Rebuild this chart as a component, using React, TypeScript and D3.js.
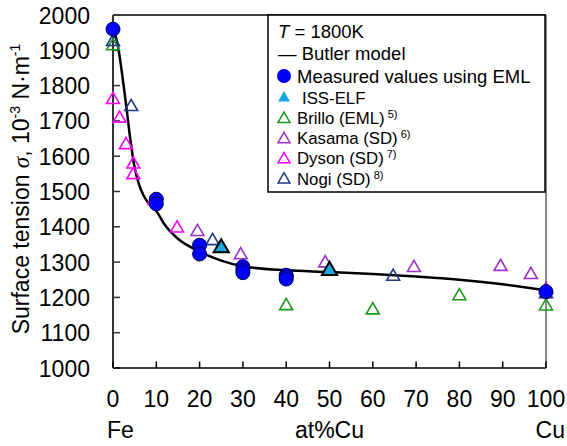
import React from "react";
import * as d3 from "d3";

// Butler model curve (at%Cu -> surface tension, 1e-3 N/m)
const butlerX = [0, 1, 2, 3, 4, 5, 6, 7, 8, 10, 12, 15, 20, 25, 30, 40, 50, 60, 70, 80, 90, 100];
const butlerY = [1960, 1922, 1842, 1748, 1648, 1568, 1520, 1490, 1470, 1445, 1405, 1366, 1330, 1304, 1288, 1277, 1272, 1266, 1259, 1250, 1237, 1220];

// measured values using EML
const emlX = [0, 10, 10, 20, 20, 30, 30, 30, 40, 40, 40, 100];
const emlY = [1960, 1478, 1465, 1348, 1323, 1287, 1277, 1270, 1263, 1257, 1252, 1216];

// ISS-ELF
const issX = [25, 50];
const issY = [1340, 1276];

// literature data
const brilloX = [0, 40, 60, 80, 100];
const brilloY = [1912, 1176, 1164, 1204, 1175];
const kasamaX = [19.5, 29.5, 49, 69.5, 89.5, 96.5, 100];
const kasamaY = [1386, 1320, 1297, 1284, 1287, 1264, 1222];
const dysonX = [0, 1.5, 3, 4.7, 4.7, 9.5, 14.8];
const dysonY = [1760, 1707, 1632, 1577, 1547, 1475, 1396];
const nogiX = [0, 4.2, 23, 64.7, 100];
const nogiY = [1924, 1740, 1360, 1259, 1210];

const xTicks = [0, 10, 20, 30, 40, 50, 60, 70, 80, 90, 100];
const yTicks = [1000, 1100, 1200, 1300, 1400, 1500, 1600, 1700, 1800, 1900, 2000];

const FONT = "'Liberation Sans', Arial, sans-serif";

export default function App() {
  const W = 567, H = 446;
  const left = 113, right = 546, top = 15, bottom = 368;

  const x = d3.scaleLinear().domain([0, 100]).range([left, right]);
  const y = d3.scaleLinear().domain([1000, 2000]).range([bottom, top]);

  const line = d3.line<number>()
    .x((d, i) => x(butlerX[i]))
    .y(d => y(d))
    .curve(d3.curveMonotoneX);

  const tri = d3.symbol().type(d3.symbolTriangle).size(72)()!;
  const triBig = d3.symbol().type(d3.symbolTriangle).size(100)()!;
  const triLeg = d3.symbol().type(d3.symbolTriangle).size(62)()!;

  const openSeries = [
    { xs: brilloX, ys: brilloY, color: "#1a9a1a" },
    { xs: nogiX, ys: nogiY, color: "#1f3a8a" },
    { xs: kasamaX, ys: kasamaY, color: "#9b30d0" },
    { xs: dysonX, ys: dysonY, color: "#ff00ff" },
  ];

  const legX = 268, legY = 15, legW = 277, legH = 177;
  const lx = 278;
  const legRows = [
    { label: "Brillo (EML)", ref: "5)", color: "#1a9a1a" },
    { label: "Kasama (SD)", ref: "6)", color: "#9b30d0" },
    { label: "Dyson (SD)", ref: "7)", color: "#ff00ff" },
    { label: "Nogi (SD)", ref: "8)", color: "#1f3a8a" },
  ];

  return (
    <svg width={W} height={H} style={{ position: "absolute", left: 0, top: 0, background: "#fff" }}
      fontFamily={FONT}>
      {/* frame */}
      <line x1={right} x2={right} y1={top} y2={bottom} stroke="#888" strokeWidth={2} />
      <line x1={left} x2={right} y1={top} y2={top} stroke="#000" strokeWidth={1.5} />

      {/* y axis */}
      <line x1={left} x2={left} y1={top} y2={bottom} stroke="#333" strokeWidth={2} />
      {yTicks.map(t => (
        <g key={"y" + t}>
          <line x1={left} x2={left + 7} y1={y(t)} y2={y(t)} stroke="#333" strokeWidth={1.5} />
          <text x={90} y={y(t) + 8.5} textAnchor="end" fontSize={23}>{t}</text>
        </g>
      ))}

      {/* x axis */}
      <line x1={left} x2={right} y1={bottom} y2={bottom} stroke="#000" strokeWidth={1.5} />
      {xTicks.map(t => (
        <g key={"x" + t}>
          <line x1={x(t)} x2={x(t)} y1={bottom} y2={bottom - 6.5} stroke="#000" strokeWidth={1.5} />
          <text x={x(t)} y={407} textAnchor="middle" fontSize={23}>{t}</text>
        </g>
      ))}
      <text x={107} y={438} fontSize={23}>Fe</text>
      <text x={x(50)} y={438} textAnchor="middle" fontSize={23}>at%Cu</text>
      <text x={565} y={438} textAnchor="end" fontSize={23}>Cu</text>

      {/* y label */}
      <text transform="translate(29,189) rotate(-90)" textAnchor="middle" fontSize={23}>
        Surface tension <tspan fontFamily="'Liberation Serif', serif" fontStyle="italic">σ</tspan>, 10
        <tspan dy={-9} fontSize={14}>-3</tspan>
        <tspan dy={9}> N·m</tspan>
        <tspan dy={-9} fontSize={14}>-1</tspan>
      </text>

      {/* Butler model */}
      <path d={line(butlerY) || ""} fill="none" stroke="#000" strokeWidth={2.5} />

      {/* literature triangles */}
      {openSeries.map((s, si) =>
        s.ys.map((v, i) => (
          <path key={si + "-" + i} d={tri} transform={`translate(${x(s.xs[i])},${y(v)})`}
            fill="none" stroke={s.color} strokeWidth={1.6} />
        ))
      )}

      {/* EML circles */}
      {emlY.map((v, i) => (
        <circle key={"e" + i} cx={x(emlX[i])} cy={y(v)} r={7} fill="#0000ff" stroke="#000050" strokeWidth={1} />
      ))}

      {/* ISS-ELF */}
      {issY.map((v, i) => (
        <path key={"iss" + i} d={triBig} transform={`translate(${x(issX[i])},${y(v)})`}
          fill="#1aa7e0" stroke="#000" strokeWidth={2} />
      ))}

      {/* legend */}
      <rect x={legX} y={legY} width={legW} height={legH} fill="#fff" stroke="#000" strokeWidth={1.5} />
      <text x={lx} y={38} fontSize={18.5}>
        <tspan fontStyle="italic">T</tspan> = 1800K
      </text>
      <text x={lx} y={60} fontSize={18.5}>— Butler model</text>
      <circle cx={284} cy={76} r={7} fill="#0000ff" />
      <text x={297} y={82.5} fontSize={18.5}>Measured values using EML</text>
      <path d={triLeg} transform="translate(284,98)" fill="#1aa7e0" />
      <text x={302} y={104} fontSize={16.8}>ISS-ELF</text>
      {legRows.map((r, i) => (
        <g key={r.label}>
          <path d={triLeg} transform={`translate(284,${119 + i * 20.2})`} fill="none" stroke={r.color} strokeWidth={1.5} />
          <text x={297} y={124 + i * 20.2} fontSize={16.8}>
            {r.label}<tspan dx={3} dy={-6} fontSize={11}>{r.ref}</tspan>
          </text>
        </g>
      ))}
    </svg>
  );
}
